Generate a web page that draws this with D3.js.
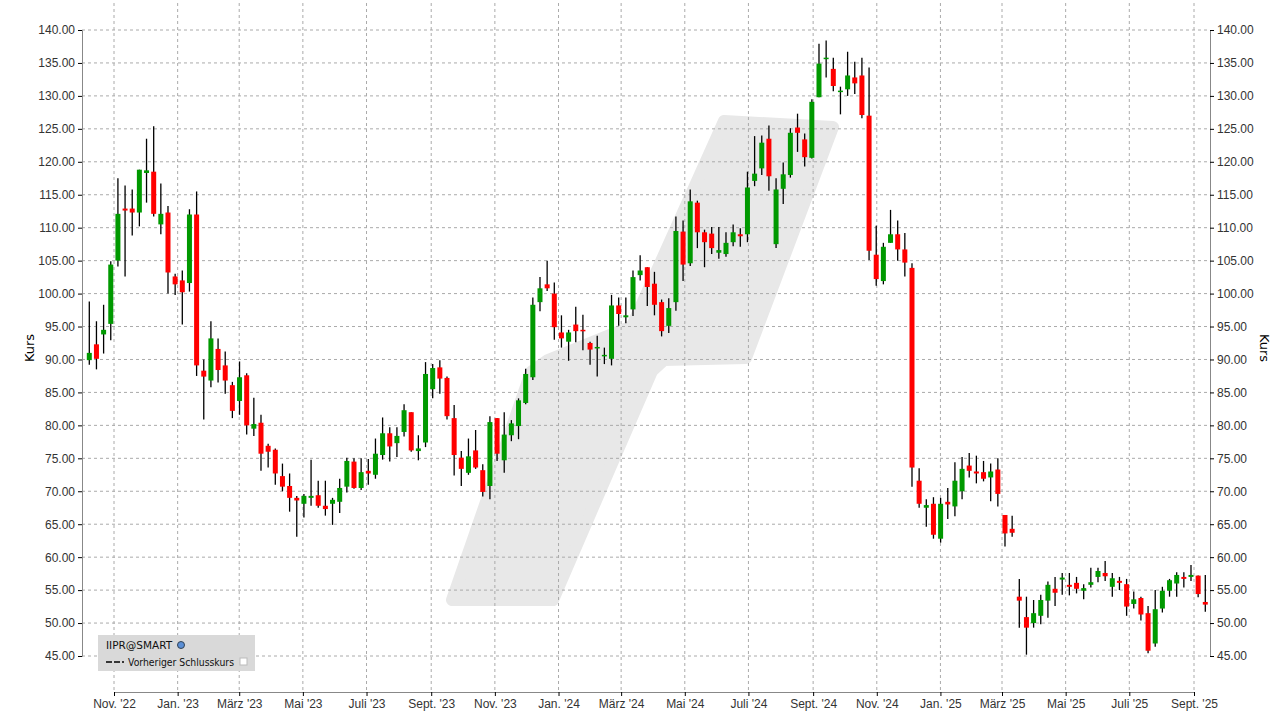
<!DOCTYPE html>
<html><head><meta charset="utf-8">
<script src="https://cdn.jsdelivr.net/npm/d3@7"></script>
<style>body{margin:0;background:#fff}svg{display:block;font-family:"DejaVu Sans",sans-serif}</style>
</head><body><svg id="c" width="1280" height="718"></svg>
<script>
// OHLC weekly candles: [open, high, low, close]
const open  = [89.9,92.3,93.8,95.4,105.0,112.9,112.9,112.3,118.3,118.5,110.5,112.3,102.6,102.0,101.6,112.0,88.3,86.8,91.6,89.1,86.1,83.7,87.6,79.5,80.4,76.9,76.3,72.3,70.8,69.0,68.1,69.0,69.4,67.8,68.1,68.4,70.7,74.5,70.5,73.1,72.5,75.5,78.8,77.3,79.0,82.0,76.1,77.4,85.5,88.8,87.2,81.1,75.1,72.8,76.2,73.2,70.8,81.1,74.7,78.5,79.9,83.4,87.3,98.7,101.4,100.0,94.1,92.7,95.3,94.5,92.5,91.7,90.5,90.1,98.2,96.4,97.6,102.8,104.0,101.5,98.7,95.1,98.7,109.4,104.6,113.8,109.3,109.1,106.2,106.0,107.8,109.0,109.0,117.1,119.0,123.5,107.5,115.9,118.0,125.2,123.4,120.6,129.8,135.6,134.1,130.6,131.0,132.8,133.1,127.0,105.9,101.9,107.7,109.0,106.7,103.9,71.6,67.5,68.1,62.8,68.4,67.7,70.0,73.9,73.0,72.9,72.1,73.3,66.4,64.3,54.0,50.9,50.0,51.1,53.4,55.2,56.6,55.8,56.1,54.9,55.8,57.0,57.6,55.5,56.4,55.9,52.9,53.8,51.5,46.9,52.2,54.9,56.0,57.0,57.0,57.2,53.2];
const high  = [98.8,95.8,98.3,104.9,117.5,116.4,115.8,118.8,123.5,125.4,116.7,113.3,103.0,103.5,112.8,115.5,90.0,95.8,93.2,91.2,86.6,89.7,87.9,84.2,81.6,77.2,76.5,74.2,72.7,69.3,69.6,74.8,71.6,71.6,69.0,71.9,75.1,75.0,75.0,74.9,78.0,81.2,79.7,79.7,83.2,82.0,78.5,89.6,89.3,89.9,87.4,83.1,76.1,78.0,79.3,74.1,81.4,81.1,82.0,80.8,84.1,88.6,99.4,102.5,105.0,101.7,96.7,94.5,98.0,96.8,92.7,93.6,91.8,99.8,99.4,99.4,103.5,105.8,104.0,103.3,99.1,99.3,111.7,111.1,115.8,114.1,109.7,110.1,110.1,109.3,110.5,109.9,118.5,123.9,124.0,125.5,117.5,119.9,125.1,127.3,124.3,129.5,137.9,138.4,135.8,131.4,136.7,135.2,135.8,134.3,110.3,107.7,112.7,111.1,109.2,104.6,73.5,68.8,69.1,69.0,70.5,74.4,75.2,75.8,75.4,74.6,74.2,75.0,66.4,66.3,56.7,54.0,53.5,54.3,56.3,57.0,57.6,57.6,57.0,55.9,58.4,58.4,59.4,57.6,57.0,56.7,54.8,54.0,52.6,55.0,55.5,56.7,57.7,57.7,58.8,57.2,57.3];
const low   = [89.2,88.5,90.9,92.9,104.1,102.6,108.8,110.2,113.8,111.7,109.0,100.0,99.8,95.3,100.3,87.5,80.9,85.8,86.5,84.8,81.1,81.6,78.6,78.4,73.1,73.6,71.0,70.0,66.9,63.1,66.0,67.8,67.5,66.3,64.9,66.7,69.8,70.4,70.2,71.0,71.9,74.8,74.5,75.2,78.3,76.0,74.7,76.7,84.1,84.8,80.9,72.4,70.8,72.5,73.4,69.2,68.8,74.6,72.8,77.6,77.9,83.2,86.9,97.3,100.4,93.0,91.8,89.8,92.6,91.4,89.2,87.4,89.3,89.1,95.1,95.5,96.6,102.0,98.1,96.7,93.5,94.0,97.4,101.9,104.2,106.9,104.0,106.0,105.3,105.6,107.2,107.1,107.8,116.3,118.0,115.6,106.9,113.6,117.6,121.5,119.3,120.5,129.8,132.8,130.7,127.2,130.0,130.3,126.6,105.1,101.2,101.4,107.7,105.0,102.6,70.7,67.5,64.6,62.8,62.2,65.8,66.2,68.8,72.1,71.2,71.5,68.5,67.7,61.6,63.1,49.3,45.2,49.3,49.8,50.8,52.6,54.3,54.2,54.5,53.6,55.4,56.2,56.4,54.0,55.0,51.1,52.2,50.4,45.4,46.4,51.6,54.0,54.0,55.4,56.4,53.9,51.7];
const close = [91.0,90.1,94.5,104.4,112.1,112.6,112.3,118.8,118.7,112.1,112.1,103.2,101.4,100.2,112.0,89.1,87.4,93.2,88.4,86.8,82.2,87.3,80.0,80.2,75.7,76.0,72.7,70.7,69.0,68.6,69.3,69.3,67.8,67.3,68.7,70.5,74.6,70.5,72.9,72.7,75.7,78.8,76.8,78.4,82.3,76.2,76.5,87.8,88.7,87.1,81.4,75.5,73.4,75.3,73.6,69.9,80.5,75.7,78.6,80.3,83.8,87.8,98.3,100.8,100.8,94.9,93.2,94.1,94.3,94.3,91.5,91.9,90.7,98.2,96.9,96.7,102.5,103.5,101.0,98.3,94.3,97.8,109.5,104.4,114.0,109.3,107.8,106.9,106.6,107.7,109.3,108.7,116.1,118.2,122.9,117.8,115.8,118.1,124.4,124.4,120.7,129.1,134.9,135.8,131.5,130.8,133.1,131.9,127.1,106.5,102.2,107.1,109.0,106.7,104.7,73.6,68.1,67.9,63.4,68.1,68.0,71.6,73.4,73.1,72.7,71.9,73.0,69.6,63.6,63.7,53.4,49.3,51.5,53.5,55.8,54.6,56.9,55.5,55.2,55.3,56.2,57.9,57.1,56.8,56.1,52.5,53.6,51.3,45.8,52.1,54.9,56.5,57.3,56.7,57.3,54.4,52.8];
const yTicks = [45,50,55,60,65,70,75,80,85,90,95,100,105,110,115,120,125,130,135,140];
const xTickDates = ["2022-11-01","2023-01-01","2023-03-01","2023-05-01","2023-07-01","2023-09-01","2023-11-01","2024-01-01","2024-03-01","2024-05-01","2024-07-01","2024-09-01","2024-11-01","2025-01-01","2025-03-01","2025-05-01","2025-07-01","2025-09-01"];
const xTickLabels = ["Nov. '22","Jan. '23","März '23","Mai '23","Juli '23","Sept. '23","Nov. '23","Jan. '24","März '24","Mai '24","Juli '24","Sept. '24","Nov. '24","Jan. '25","März '25","Mai '25","Juli '25","Sept. '25"];

const svg = d3.select("#c");
const L=82, R=1210, T=3, B=692;
const y = d3.scaleLinear().domain([45,140]).range([656,30]);
const x = d3.scaleLinear().domain([0, open.length-1]).range([89.3,1205.3]);
const xt = d3.scaleTime().domain([new Date("2022-11-01"),new Date("2025-09-01")]).range([114,1194]);

// watermark
const wm=[[452,600],[553,600],[652,371],[664,360],[746,358],[833,127],[724,121],[632,326],[548,360],[531,372]];
svg.append("path").attr("d",d3.line().curve(d3.curveLinearClosed)(wm))
  .attr("fill","#e8e8e8").attr("stroke","#e8e8e8").attr("stroke-width",12).attr("stroke-linejoin","round");

// grid
const g=svg.append("g");
yTicks.forEach(t=>g.append("line").attr("x1",L).attr("x2",R).attr("y1",y(t)).attr("y2",y(t))
  .attr("stroke","#aaa").attr("stroke-dasharray","3,3"));
xTickDates.forEach(d=>g.append("line").attr("x1",xt(new Date(d))).attr("x2",xt(new Date(d))).attr("y1",T).attr("y2",B)
  .attr("stroke","#aaa").attr("stroke-dasharray","3,3"));

// axes
svg.append("g").attr("transform",`translate(${L},0)`).call(d3.axisLeft(y).tickValues(yTicks).tickFormat(d3.format(".2f")).tickSize(4))
  .call(a=>{a.select(".domain").attr("stroke","#888");a.selectAll("text").attr("font-size",12).attr("fill","#333")});
svg.append("g").attr("transform",`translate(${R},0)`).call(d3.axisRight(y).tickValues(yTicks).tickFormat(d3.format(".2f")).tickSize(4))
  .call(a=>{a.select(".domain").attr("stroke","#888");a.selectAll("text").attr("font-size",12).attr("fill","#333")});
svg.append("g").attr("transform",`translate(0,${B})`).call(d3.axisBottom(xt).tickValues(xTickDates.map(d=>new Date(d))).tickFormat((d,i)=>xTickLabels[i]).tickSize(4))
  .call(a=>{a.select(".domain").attr("stroke","#888");a.selectAll("text").attr("font-size",12).attr("fill","#333")});

svg.append("text").attr("transform","translate(34,348) rotate(-90)").attr("text-anchor","middle").attr("font-size",13).text("Kurs");
svg.append("text").attr("transform","translate(1260,348) rotate(90)").attr("text-anchor","middle").attr("font-size",13).text("Kurs");

// candles
const c=svg.append("g");
open.forEach((o,i)=>{
  const cl=close[i], up=cl>=o, cx=x(i);
  c.append("line").attr("x1",cx).attr("x2",cx).attr("y1",y(high[i])).attr("y2",y(low[i])).attr("stroke","#000").attr("stroke-width",1.3);
  const top=y(Math.max(o,cl)), bot=y(Math.min(o,cl));
  c.append("rect").attr("x",cx-2.5).attr("width",5).attr("y",top).attr("height",Math.max(bot-top,1.5))
   .attr("fill",up?"#009900":"#ff0000");
});

// legend
const lg=svg.append("g");
lg.append("rect").attr("x",98).attr("y",635).attr("width",157).attr("height",36).attr("fill","#d9d9d9");
lg.append("text").attr("x",106).attr("y",649).attr("font-size",10.5).attr("fill","#111").text("IIPR@SMART");
lg.append("circle").attr("cx",181).attr("cy",645).attr("r",3.5).attr("fill","#5b8fd6").attr("stroke","#345");
lg.append("line").attr("x1",106).attr("x2",124).attr("y1",662).attr("y2",662).attr("stroke","#000").attr("stroke-width",1.5).attr("stroke-dasharray","6,2");
lg.append("text").attr("x",128).attr("y",666).attr("font-size",10).attr("textLength",106).attr("lengthAdjust","spacingAndGlyphs").attr("fill","#111").text("Vorheriger Schlusskurs");
lg.append("rect").attr("x",240).attr("y",658).attr("width",7).attr("height",7).attr("fill","#fff").attr("stroke","#bbb");
</script></body></html>
